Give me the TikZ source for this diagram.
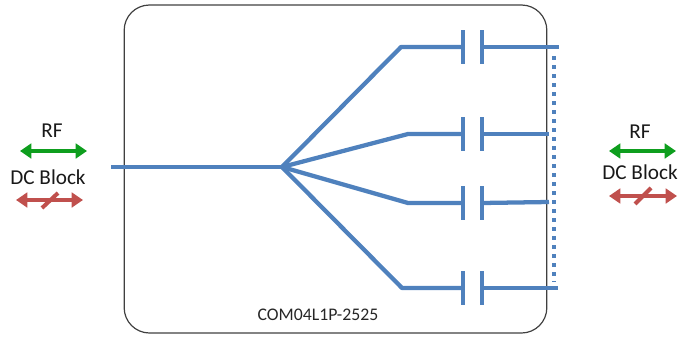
\documentclass[tikz,border=0pt]{standalone}
\usepackage{fontspec}
\setmainfont{Carlito}
\usetikzlibrary{arrows.meta,positioning}
\definecolor{lineblue}{HTML}{4F81BD}
\definecolor{rfgreen}{HTML}{0E9E1E}
\definecolor{blockred}{HTML}{C0504D}
\tikzset{
  wire/.style = {lineblue, line width=3.2pt, line join=round},
  plate/.style = {lineblue, line width=3pt},
  link/.style = {lineblue, line width=3.6pt, dash pattern=on 3pt off 3.75pt},
  rfarrow/.style = {{Triangle[length=8.5pt,width=11pt]}-{Triangle[length=8.5pt,width=11pt]}, rfgreen, line width=3pt},
  blockarrow/.style = {{Triangle[length=8.5pt,width=11pt]}-{Triangle[length=8.5pt,width=11pt]}, blockred, line width=3pt},
  slash/.style = {blockred, line width=3pt},
  caption/.style = {inner sep=0pt, font=\fontsize{15.9pt}{18pt}\selectfont, text=black!90},
  partno/.style = {inner sep=0pt, font=\fontsize{13.3pt}{15pt}\selectfont, text=black!85}
}
\begin{document}
\begin{tikzpicture}[x=0.75pt, y=-0.75pt]
\useasboundingbox (0,0) rectangle (678,336);

% housing
\node[draw=black!75, line width=0.9pt, rounded corners=19pt, minimum width=317pt, minimum height=246pt, inner sep=0pt] (box) at (335.5,169) {};
\node[partno] (part) at (318,315) {COM04L1P-2525};

% common line and splitter
\coordinate (in) at (111,167);
\coordinate (hub) at (282,167);
\draw[wire] (in) -- (hub);

\coordinate (k1) at (401,47);
\coordinate (k2) at (408,134);
\coordinate (k3) at (408,203);
\coordinate (k4) at (402,288);
\coordinate (a1) at (463,47);
\coordinate (a2) at (463,134);
\coordinate (a3) at (463,203);
\coordinate (a4) at (463,288);
\coordinate (b1) at (482,47);
\coordinate (b2) at (482,134);
\coordinate (b3) at (482,203);
\coordinate (b4) at (482,288);
\coordinate (e1) at (559,47);
\coordinate (e2) at (549,134);
\coordinate (e3) at (549,202);
\coordinate (e4) at (558,288);

\draw[wire] (hub) -- (k1) -- (a1);
\draw[wire] (hub) -- (k2) -- (a2);
\draw[wire] (hub) -- (k3) -- (a3);
\draw[wire] (hub) -- (k4) -- (a4);
\draw[wire] (b1) -- (e1);
\draw[wire] (b2) -- (e2);
\draw[wire] (b3) -- (e3);
\draw[wire] (b4) -- (e4);

% capacitor plates
\foreach \n in {1,2,3,4} {
  \draw[plate] ([yshift=12.75pt]a\n) -- ([yshift=-12.75pt]a\n);
  \draw[plate] ([yshift=12.75pt]b\n) -- ([yshift=-12.75pt]b\n);
}

% dotted tie at the outputs
\coordinate (t1) at (554,56);
\coordinate (t2) at (554,282);
\draw[link] (t1) -- (t2);

% left legend
\node[caption] (rfL) at (52,131) {RF};
\node[caption] (dcL) at (48,177) {DC Block};
\coordinate (gL1) at (20,151);
\coordinate (gL2) at (87,151);
\draw[rfarrow] (gL1) -- (gL2);
\coordinate (rL1) at (16,200);
\coordinate (rL2) at (83,200);
\draw[blockarrow] (rL1) -- (rL2);
\coordinate (sL1) at (42,208);
\coordinate (sL2) at (58,193);
\draw[slash] (sL1) -- (sL2);

% right legend
\node[caption] (rfR) at (640,132) {RF};
\node[caption] (dcR) at (640,172) {DC Block};
\coordinate (gR1) at (609,151);
\coordinate (gR2) at (676,151);
\draw[rfarrow] (gR1) -- (gR2);
\coordinate (rR1) at (609,196);
\coordinate (rR2) at (677,196);
\draw[blockarrow] (rR1) -- (rR2);
\coordinate (sR1) at (635,204);
\coordinate (sR2) at (651,188);
\draw[slash] (sR1) -- (sR2);

\end{tikzpicture}
\end{document}
